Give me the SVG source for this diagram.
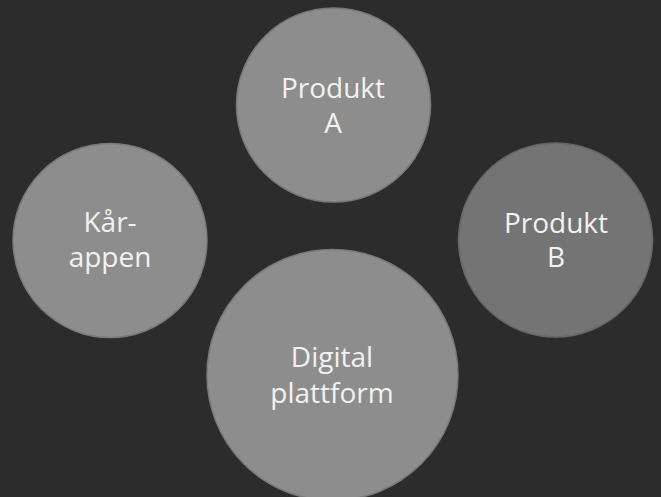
<svg xmlns="http://www.w3.org/2000/svg" width="661" height="497" viewBox="0 0 661 497">
  <style>
    .c { fill: #8d8d8d; stroke: #7a7a7a; stroke-width: 1.5; }
    .cb { fill: #747474; stroke: #666666; stroke-width: 1.5; }
    .t { font-family: "Open Sans", "Noto Sans", "DejaVu Sans", sans-serif; font-size: 28px; fill: #f2f2f2; text-anchor: middle; }
  </style>
  <rect width="661" height="497" fill="#2c2c2c"/>
  <g id="connectors"/>
  <g id="produkt-a">
    <circle class="c" cx="333.5" cy="105" r="97"/>
    <text class="t" x="333" y="98">Produkt</text>
    <text class="t" x="333" y="133">A</text>
  </g>
  <g id="kar-appen">
    <circle class="c" cx="110" cy="240.5" r="97"/>
    <text class="t" x="110" y="232">Kår-</text>
    <text class="t" x="110" y="267">appen</text>
  </g>
  <g id="produkt-b">
    <circle class="cb" cx="555.5" cy="240" r="97"/>
    <text class="t" x="556" y="232.5">Produkt</text>
    <text class="t" x="556" y="267">B</text>
  </g>
  <g id="digital-plattform">
    <circle class="c" cx="332.5" cy="375" r="125.5"/>
    <text class="t" x="332" y="367">Digital</text>
    <text class="t" x="332" y="403">plattform</text>
  </g>
</svg>
